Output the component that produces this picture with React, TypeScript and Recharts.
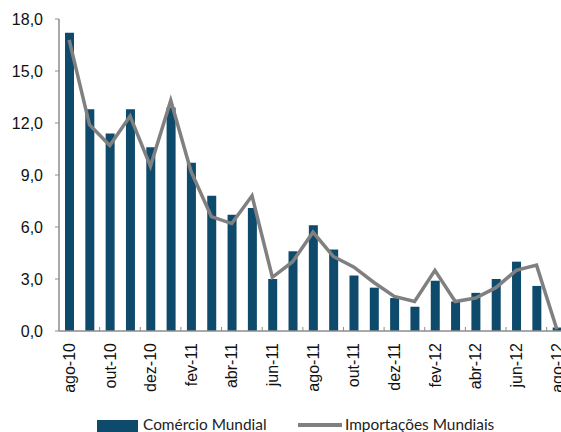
import { ComposedChart, Bar, Line, XAxis, YAxis, Legend } from "recharts"

const meses = [
  "ago-10", "set-10", "out-10", "nov-10", "dez-10", "jan-11", "fev-11", "mar-11", "abr-11",
  "mai-11", "jun-11", "jul-11", "ago-11", "set-11", "out-11", "nov-11", "dez-11", "jan-12",
  "fev-12", "mar-12", "abr-12", "mai-12", "jun-12", "jul-12", "ago-12",
]
const comercio = [
  17.2, 12.8, 11.4, 12.8, 10.6, 12.9, 9.7, 7.8, 6.7, 7.1, 3.0, 4.6, 6.1, 4.7, 3.2, 2.5, 1.9,
  1.4, 2.9, 1.7, 2.2, 3.0, 4.0, 2.6, 0.2,
]
const importacoes = [
  16.8, 11.9, 10.7, 12.4, 9.5, 13.3, 9.2, 6.6, 6.2, 7.8, 3.1, 4.0, 5.7, 4.3, 3.7, 2.8, 2.0,
  1.7, 3.5, 1.7, 1.9, 2.5, 3.5, 3.8, 0.1,
]
const yTicks = [0, 3, 6, 9, 12, 15, 18]

const data = meses.map((m, i) => ({ mes: m, comercio: comercio[i], importacoes: importacoes[i] }))

const W = 580
const H = 432
const M = { top: 19, right: 13, left: 0, bottom: 0 }
const Y_W = 59
const BAND = (W - M.left - M.right - Y_W) / meses.length
const AXIS = "#8c8c8c"
const FONT = "'Liberation Sans', Arial, sans-serif"

function MesTick(props: any) {
  const { x, y, index, payload } = props
  if (index % 2 !== 0) return null
  const bx = x - BAND / 2
  return (
    <g>
      {index > 0 && <line x1={bx} x2={bx} y1={y} y2={y - 4} stroke={AXIS} />}
      <text
        transform={`translate(${x},${y + 12}) rotate(-90)`}
        textAnchor="end"
        dy="0.36em"
        fontSize={16}
        fontFamily={FONT}
        fill="#111"
      >
        {payload.value}
      </text>
    </g>
  )
}

function Legenda() {
  return (
    <div style={{ position: "relative", height: 20, fontFamily: "Lato, sans-serif", fontSize: 15.4, color: "#222" }}>
      <div style={{ position: "absolute", left: 97, top: 6, width: 41, height: 12, background: "#0d4a6b" }} />
      <span style={{ position: "absolute", left: 143, top: 1 }}>Comércio Mundial</span>
      <div style={{ position: "absolute", left: 298, top: 9, width: 44, height: 4, background: "#808080" }} />
      <span style={{ position: "absolute", left: 345, top: 1 }}>Importações Mundiais</span>
    </div>
  )
}

export default function App() {
  return (
    <div style={{ position: "fixed", left: 0, top: 0, width: 561, height: 432, overflow: "hidden", background: "#fff" }}>
      <ComposedChart width={W} height={H} data={data} margin={M}>
        <XAxis
          dataKey="mes"
          interval={0}
          height={H - 331 - M.top + 19}
          tickSize={0}
          tickMargin={0}
          tick={<MesTick />}
          axisLine={{ stroke: AXIS, strokeWidth: 1.5 }}
        />
        <YAxis
          width={Y_W}
          domain={[0, 18]}
          ticks={yTicks}
          tickFormatter={(v: number) => v.toFixed(1).replace(".", ",")}
          tickSize={4}
          tickMargin={12}
          tick={{ fontSize: 16, fontFamily: FONT, fill: "#111" }}
          tickLine={{ stroke: AXIS }}
          axisLine={{ stroke: AXIS, strokeWidth: 1.5 }}
        />
        <Bar dataKey="comercio" fill="#0d4a6b" barSize={9} isAnimationActive={false} />
        <Line
          dataKey="importacoes"
          type="linear"
          stroke="#808080"
          strokeWidth={3.5}
          dot={false}
          isAnimationActive={false}
        />
        <Legend
          layout="horizontal"
          verticalAlign="middle"
          align="center"
          wrapperStyle={{ top: 414, left: 0, width: 561 }}
          content={<Legenda />}
        />
      </ComposedChart>
    </div>
  )
}
